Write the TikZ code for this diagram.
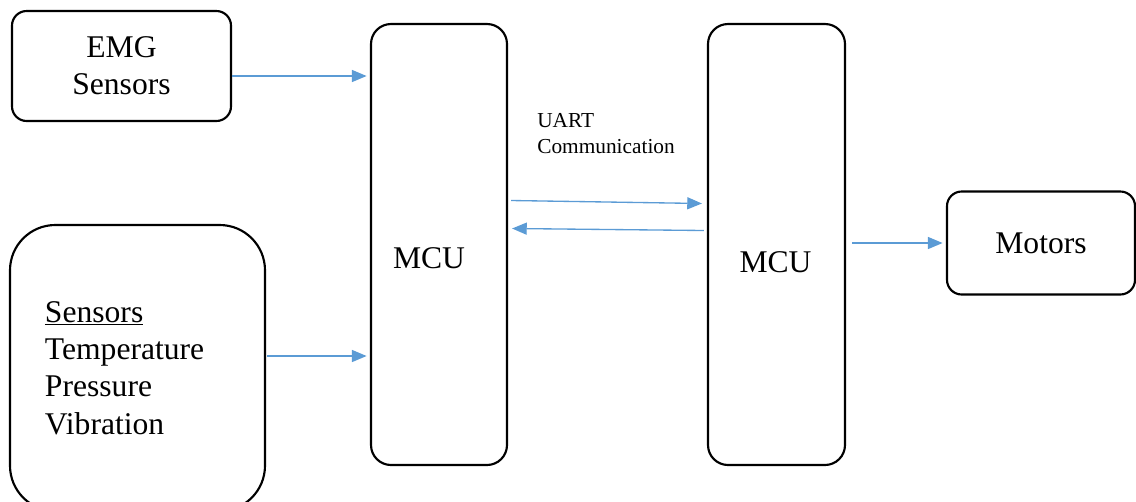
\documentclass[tikz,border=0pt]{standalone}
\usepackage{fontspec}
\setmainfont{Liberation Serif}
\usetikzlibrary{arrows.meta}
\definecolor{arrowblue}{HTML}{5B9BD5}
\tikzset{
  box/.style={draw=black, line width=1.6pt, inner sep=0pt, align=center,
    font=\fontsize{23.7pt}{28pt}\selectfont},
  conn/.style={draw=arrowblue, line width=1pt,
    -{Triangle[length=11pt,width=9pt]}},
  gap/.style={shorten >=2.5pt},
}
\begin{document}
\begin{tikzpicture}[x=0.75pt,y=-0.75pt]
\useasboundingbox (0,0) rectangle (1136,501);
\begin{scope}
\clip (0,0) rectangle (1136,501);
% boxes
\node[box, rounded corners=11pt, minimum width={219*0.75pt}, minimum height={110*0.75pt}]
  (emg) at (121.5,66) {EMG\\Sensors};
\node[box, rounded corners=34pt, minimum width={255*0.75pt}, minimum height={286*0.75pt},
  text width={185*0.75pt}, align=left]
  (sens) at (137.5,368) {\underline{Sensors}\\Temperature\\Pressure\\Vibration};
\node[box, rounded corners=15pt, minimum width={136*0.75pt}, minimum height={441*0.75pt},
  label={[font=\fontsize{23.7pt}{28pt}\selectfont, xshift={-10*0.75pt}, yshift={-14*0.75pt}]center:MCU}]
  (mcu1) at (439,244.5) {};
\node[box, rounded corners=15pt, minimum width={137*0.75pt}, minimum height={441*0.75pt},
  label={[font=\fontsize{23.7pt}{28pt}\selectfont, xshift={-1*0.75pt}, yshift={-18*0.75pt}]center:MCU}]
  (mcu2) at (776.5,244.5) {};
\node[box, rounded corners=11pt, minimum width={188*0.75pt}, minimum height={103*0.75pt}]
  (mot) at (1041,243) {Motors};
\node[anchor=north west, inner sep=0pt, align=left, font=\fontsize{16pt}{19.5pt}\selectfont]
  (uart) at (537,113) {UART\\Communication};
% connectors
\draw[conn, gap] ([yshift={-10*0.75pt}]emg.east) -- ([yshift={-10*0.75pt}]emg.east -| mcu1.west);
\draw[conn, gap] ([xshift={1pt},yshift={12*0.75pt}]sens.east) -- ([yshift={12*0.75pt}]sens.east -| mcu1.west);
\draw[conn] ([xshift={3*0.75pt},yshift={44*0.75pt}]mcu1.east) -- ([xshift={-5*0.75pt},yshift={41*0.75pt}]mcu2.west);
\draw[conn] ([xshift={-3*0.75pt},yshift={14*0.75pt}]mcu2.west) -- ([xshift={4*0.75pt},yshift={16*0.75pt}]mcu1.east);
\draw[conn, gap] ([xshift={6*0.75pt}]mcu2.east |- mot.west) -- (mot.west);
\end{scope}
\end{tikzpicture}
\end{document}
